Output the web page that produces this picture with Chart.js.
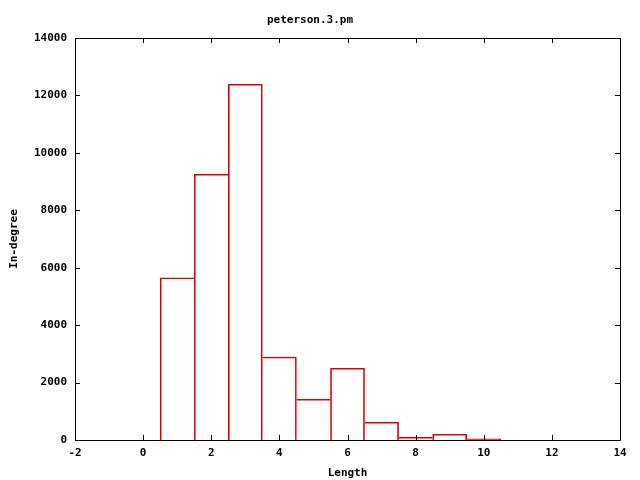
<!DOCTYPE html>
<html>
<head>
<meta charset="utf-8">
<script src="https://cdn.jsdelivr.net/npm/chart.js@4"></script>
<style>
  html, body { margin: 0; padding: 0; background: #fff; }
  #wrap { width: 640px; height: 480px; }
</style>
</head>
<body>
<div id="wrap"><canvas id="grafico"></canvas></div>
<script>
// ===== Dados do histograma =====
const lengths = [1, 2, 3, 4, 5, 6, 7, 8, 9, 10];
const inDegree = [5650, 9260, 12390, 2890, 1420, 2500, 620, 100, 200, 40];
const xTicks = [-2, 0, 2, 4, 6, 8, 10, 12, 14];
const yTicks = [0, 2000, 4000, 6000, 8000, 10000, 12000, 14000];

const FONT = { family: "'DejaVu Sans Mono', monospace", size: 11, weight: 'bold' };
const RED = '#e00000';

// bordas compartilhadas desenhadas só uma vez
function barBorder(ctx) {
  const i = ctx.dataIndex;
  const cur = inDegree[i];
  const prev = i > 0 ? inDegree[i - 1] : -1;
  const next = i < inDegree.length - 1 ? inDegree[i + 1] : -1;
  return {
    top: 1,
    bottom: 0,
    left: (i === 0 || prev <= cur) ? 1 : 0,
    right: (next < cur) ? 1 : 0
  };
}

// ===== Moldura e ticks para dentro (estilo gnuplot) =====
const frameTicks = {
  id: 'frameTicks',
  afterDraw(chart) {
    const { ctx, chartArea: a, scales } = chart;
    const len = 5;
    ctx.save();
    ctx.strokeStyle = '#000';
    ctx.lineWidth = 1;
    ctx.beginPath();
    ctx.rect(Math.round(a.left) + 0.5, Math.round(a.top) + 0.5,
             Math.round(a.right - a.left), Math.round(a.bottom - a.top));
    xTicks.forEach(v => {
      const x = Math.round(scales.x.getPixelForValue(v)) + 0.5;
      ctx.moveTo(x, a.bottom); ctx.lineTo(x, a.bottom - len);
      ctx.moveTo(x, a.top); ctx.lineTo(x, a.top + len);
    });
    yTicks.forEach(v => {
      const y = Math.round(scales.y.getPixelForValue(v)) + 0.5;
      ctx.moveTo(a.left, y); ctx.lineTo(a.left + len, y);
      ctx.moveTo(a.right, y); ctx.lineTo(a.right - len, y);
    });
    ctx.stroke();
    ctx.restore();
  }
};

new Chart(document.getElementById('grafico').getContext('2d'), {
  type: 'bar',
  data: {
    datasets: [{
      data: lengths.map((x, i) => ({ x: x, y: inDegree[i] })),
      backgroundColor: 'rgba(0,0,0,0)',
      borderColor: RED,
      borderWidth: barBorder,
      borderSkipped: false,
      barPercentage: 1,
      categoryPercentage: 1
    }]
  },
  options: {
    responsive: true,
    maintainAspectRatio: false,
    animation: false,
    layout: { padding: { left: 0, right: 20, top: 0, bottom: 0 } },
    plugins: {
      legend: { display: false },
      tooltip: { enabled: false },
      title: {
        display: true,
        text: 'peterson.3.pm',
        color: '#000',
        font: FONT,
        padding: { top: 13.5, bottom: 11.3 }
      }
    },
    scales: {
      x: {
        type: 'linear',
        min: -2,
        max: 14,
        offset: false,
        grid: { display: false, drawTicks: false },
        border: { display: false },
        afterBuildTicks: s => { s.ticks = xTicks.map(v => ({ value: v })); },
        afterFit: s => { s.height = 40; },
        ticks: { color: '#000', font: FONT, padding: 7, maxRotation: 0, callback: v => String(v) },
        title: { display: true, text: 'Length', color: '#000', font: FONT, padding: { top: 0, bottom: 0 } }
      },
      y: {
        min: 0,
        max: 14000,
        grid: { display: false, drawTicks: false },
        border: { display: false },
        afterBuildTicks: s => { s.ticks = yTicks.map(v => ({ value: v })); },
        afterFit: s => { s.width = 75; },
        ticks: { color: '#000', font: FONT, padding: 8, callback: v => String(v) },
        title: { display: true, text: 'In-degree', color: '#000', font: FONT, padding: { top: 8, bottom: 0 } }
      }
    }
  },
  plugins: [frameTicks]
});
</script>
</body>
</html>
